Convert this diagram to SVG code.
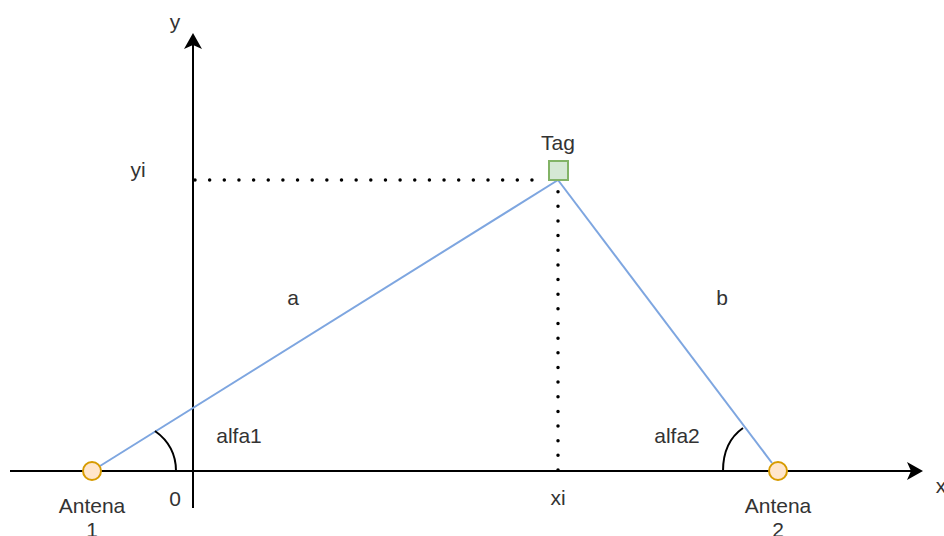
<svg xmlns="http://www.w3.org/2000/svg" width="944" height="536" viewBox="0 0 944 536">
<defs>
<style>
text{font-family:"Liberation Sans",Arial,sans-serif;font-size:21px;fill:#333;text-anchor:middle}
.axis{stroke:#000;stroke-width:2;fill:none}
.dot{stroke:#000;stroke-width:3.5;stroke-dasharray:0 14.65;stroke-linecap:round;fill:none}
.edge{stroke:#7EA6E0;stroke-width:2;fill:none}
.arc{stroke:#000;stroke-width:2;fill:none}
.ant{fill:#FFE6CC;stroke:#D79B00;stroke-width:2}
.head{fill:#000}
</style>
</defs>
<g id="connectors">
<line class="axis" x1="10" y1="471" x2="912" y2="471"/>
<path class="head" d="M907,462 L923,471 L907,480 L911,471 Z"/>
<line class="axis" x1="193" y1="508" x2="193" y2="44"/>
<path class="head" d="M184,49 L193,33 L202,49 L193,45 Z"/>
<line class="dot" x1="195" y1="180" x2="546.6" y2="180"/>
<line class="dot" x1="558" y1="470" x2="558" y2="191.65"/>
<line class="edge" x1="100" y1="466" x2="558" y2="180"/>
<line class="edge" x1="558" y1="180" x2="772" y2="463"/>
<path class="arc" d="M155,431 Q176,446 176,471"/>
<path class="arc" d="M743,428 Q723,442 723,471"/>
</g>
<g id="antenna1">
<circle class="ant" cx="92" cy="471" r="9"/>
<text x="92" y="513">Antena</text>
<text x="92" y="537">1</text>
</g>
<g id="antenna2">
<circle class="ant" cx="778" cy="471" r="9"/>
<text x="778" y="513">Antena</text>
<text x="778" y="537">2</text>
</g>
<g id="tag">
<rect x="549" y="161" width="19" height="19" fill="#D5E8D4" stroke="#82B366" stroke-width="2"/>
<text x="558" y="150">Tag</text>
</g>
<g id="labels">
<text x="175" y="29">y</text>
<text x="138" y="177">yi</text>
<text x="293" y="305">a</text>
<text x="722" y="305">b</text>
<text x="239" y="443">alfa1</text>
<text x="677" y="443">alfa2</text>
<text x="175" y="506">0</text>
<text x="558" y="505">xi</text>
<text x="941" y="493">x</text>
</g>
</svg>
